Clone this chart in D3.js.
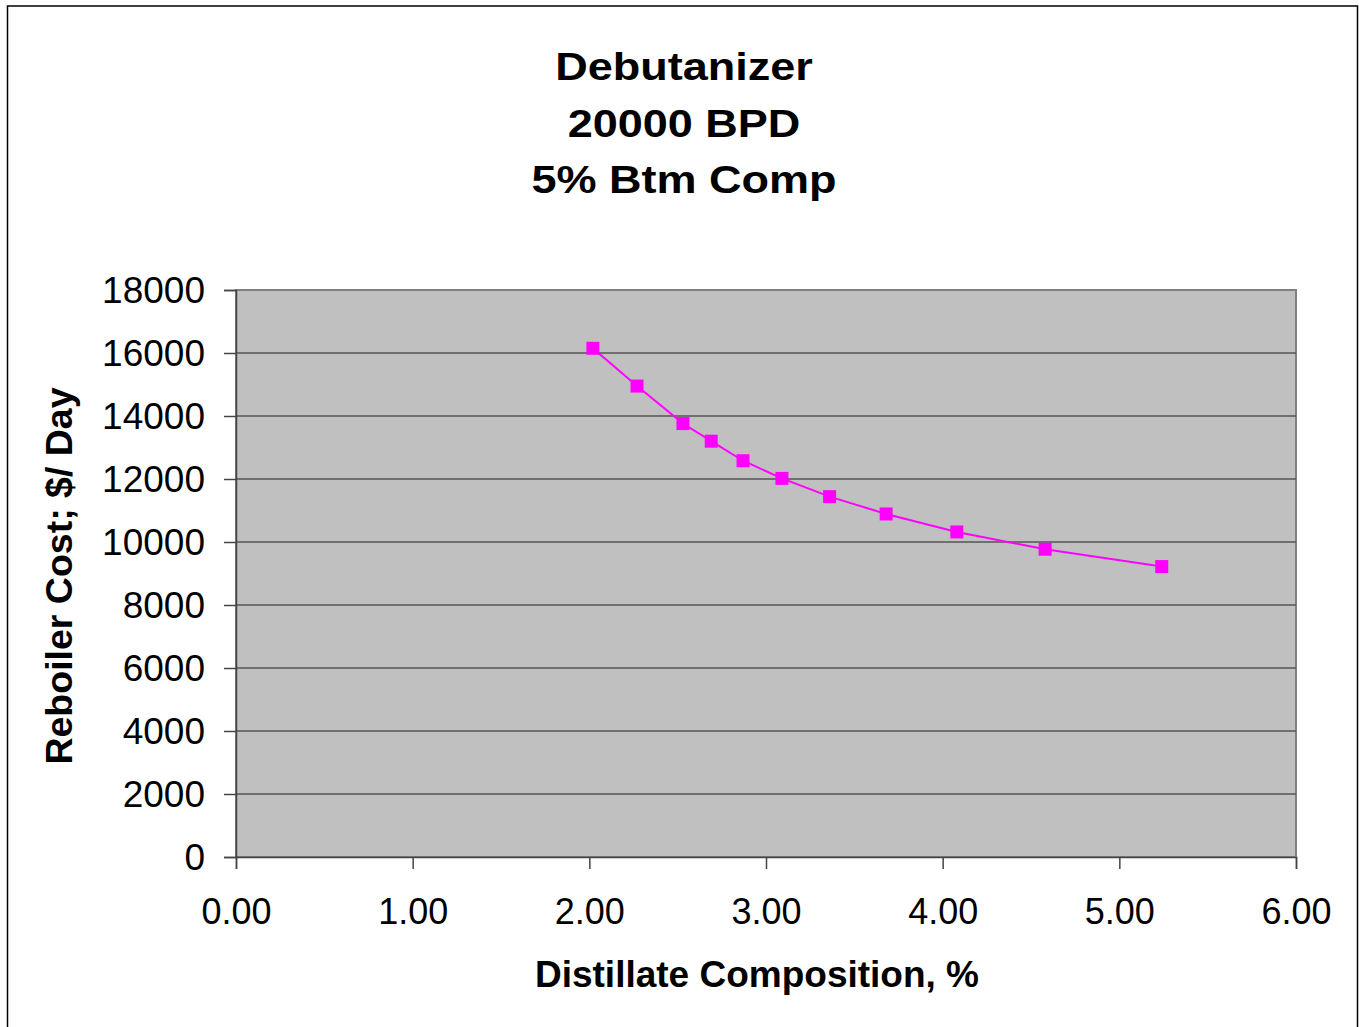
<!DOCTYPE html>
<html>
<head>
<meta charset="utf-8">
<script src="https://cdnjs.cloudflare.com/ajax/libs/d3/7.8.5/d3.min.js"></script>
<style>
  html, body { margin: 0; padding: 0; background: #fff; }
  svg { display: block; }
  text { font-family: "Liberation Sans", Arial, sans-serif; fill: #000; }
</style>
</head>
<body>
<script>
const titleLines = ["Debutanizer", "20000 BPD", "5% Btm Comp"];
const xLabel = "Distillate Composition, %";
const yLabel = "Reboiler Cost; $/ Day";
const distillateComp = [2.02, 2.27, 2.53, 2.69, 2.87, 3.09, 3.36, 3.68, 4.08, 4.58, 5.24];
const reboilerCost = [16150, 14950, 13760, 13200, 12580, 12020, 11440, 10890, 10320, 9770, 9220];
const xTicks = [0, 1, 2, 3, 4, 5, 6];
const yTicks = [0, 2000, 4000, 6000, 8000, 10000, 12000, 14000, 16000, 18000];

const W = 1359, H = 1027;
const plot = { left: 236, right: 1296, top: 290, bottom: 857 };

const svg = d3.select("body").append("svg").attr("width", W).attr("height", H);

// outer border
svg.append("rect").attr("x", 7.5).attr("y", 6).attr("width", 1350).attr("height", 1040)
  .attr("fill", "#fff").attr("stroke", "#000").attr("stroke-width", 1.5);

const x = d3.scaleLinear().domain([0, 6]).range([plot.left, plot.right]);
const y = d3.scaleLinear().domain([0, 18000]).range([plot.bottom, plot.top]);

// plot background
svg.append("rect").attr("x", plot.left).attr("y", plot.top)
  .attr("width", plot.right - plot.left).attr("height", plot.bottom - plot.top)
  .attr("fill", "#c0c0c0").attr("stroke", "#808080").attr("stroke-width", 2);

// gridlines
svg.append("g").selectAll("line").data(yTicks.filter(d => d > 0 && d < 18000)).join("line")
  .attr("x1", plot.left).attr("x2", plot.right)
  .attr("y1", d => y(d)).attr("y2", d => y(d))
  .attr("stroke", "#555").attr("stroke-width", 1.5);

// y axis
const yAxis = svg.append("g").attr("transform", `translate(${plot.left},0)`)
  .call(d3.axisLeft(y).tickValues(yTicks).tickFormat(d3.format("d")).tickSize(12).tickPadding(19));
yAxis.select(".domain").attr("stroke", "#444").attr("stroke-width", 1.5);
yAxis.selectAll(".tick line").attr("stroke", "#444").attr("stroke-width", 1.5);
yAxis.selectAll(".tick text").attr("font-size", 37).attr("font-family", "Liberation Sans, Arial, sans-serif")
  .attr("fill", "#000").attr("dy", "0.35em");

// x axis
const xAxis = svg.append("g").attr("transform", `translate(0,${plot.bottom})`)
  .call(d3.axisBottom(x).tickValues(xTicks).tickFormat(d3.format(".2f")).tickSize(12).tickPadding(0));
xAxis.select(".domain").attr("stroke", "#444").attr("stroke-width", 1.5);
xAxis.selectAll(".tick line").attr("stroke", "#444").attr("stroke-width", 1.5);
xAxis.selectAll(".tick text").attr("font-size", 36).attr("font-family", "Liberation Sans, Arial, sans-serif")
  .attr("fill", "#000").attr("y", 66.5).attr("dy", 0);

// line
const line = d3.line().x((d, i) => x(distillateComp[i])).y(d => y(d));
svg.append("path").datum(reboilerCost).attr("d", line)
  .attr("fill", "none").attr("stroke", "#ff00ff").attr("stroke-width", 2);

// markers
const ms = 13;
svg.append("g").selectAll("rect").data(reboilerCost).join("rect")
  .attr("x", (d, i) => x(distillateComp[i]) - ms / 2)
  .attr("y", d => y(d) - ms / 2)
  .attr("width", ms).attr("height", ms)
  .attr("fill", "#ff00ff");

// title
const baselines = [80, 137, 193];
titleLines.forEach((t, i) => {
  svg.append("text")
    .attr("transform", `translate(684,${baselines[i]}) scale(1.14,1)`)
    .attr("text-anchor", "middle").attr("font-size", 39.5).attr("font-weight", "bold")
    .text(t);
});

// axis titles
svg.append("text").attr("x", 757).attr("y", 987).attr("text-anchor", "middle")
  .attr("font-size", 37).attr("font-weight", "bold").text(xLabel);

svg.append("text").attr("transform", "translate(72,576) rotate(-90)")
  .attr("text-anchor", "middle").attr("font-size", 37.5).attr("font-weight", "bold").text(yLabel);
</script>
</body>
</html>
